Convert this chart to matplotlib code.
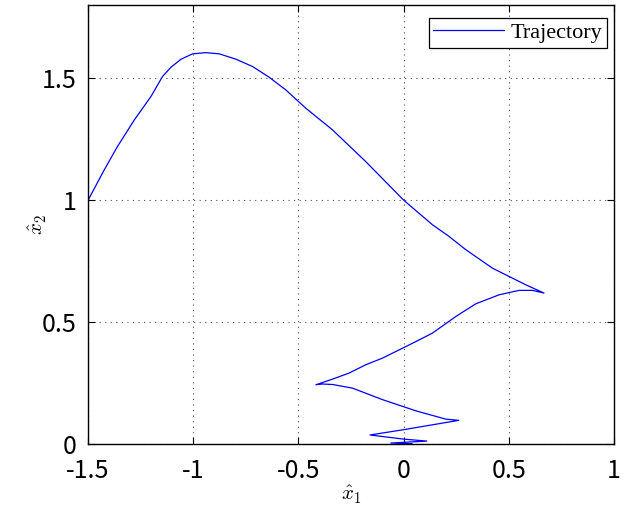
import numpy as np
import matplotlib
matplotlib.use('Agg')
import matplotlib.pyplot as plt

plt.rcParams['mathtext.fontset'] = 'cm'

# trajectory (x1_hat, x2_hat)
x1 = [-1.499, -1.423, -1.360, -1.280, -1.201, -1.146, -1.106, -1.058, -1.003,
      -0.940, -0.876, -0.797, -0.718, -0.639, -0.560, -0.465, -0.338, -0.180,
      0.0, 0.137, 0.216, 0.295, 0.422, 0.501, 0.580, 0.667,
      0.612, 0.549, 0.454, 0.343, 0.248, 0.137, 0.058, -0.101, -0.180, -0.259,
      -0.338, -0.417,
      -0.386, -0.338, -0.243, -0.101, 0.058, 0.200, 0.262,
      0.002, -0.160,
      0.0, 0.110,
      -0.061, 0.040, 0.0]
x2 = [1.001, 1.124, 1.220, 1.329, 1.425, 1.507, 1.545, 1.578, 1.600,
      1.605, 1.600, 1.578, 1.548, 1.504, 1.452, 1.377, 1.288, 1.158,
      1.0, 0.899, 0.851, 0.797, 0.721, 0.687, 0.653, 0.619,
      0.630, 0.630, 0.612, 0.575, 0.523, 0.455, 0.420, 0.352, 0.325, 0.291,
      0.266, 0.243,
      0.246, 0.244, 0.229, 0.182, 0.136, 0.102, 0.097,
      0.059, 0.037,
      0.020, 0.012,
      0.004, 0.001, 0.0]

xticks = [-1.5, -1, -0.5, 0, 0.5, 1]
yticks = [0, 0.5, 1, 1.5]

fig = plt.figure(figsize=(6.26, 5.08), dpi=100)
ax = fig.add_axes([0.1406, 0.126, 0.8404, 0.864])

ax.plot(x1, x2, color='#0000ff', lw=0.9, label='Trajectory')

ax.set_xlim(-1.5, 1)
ax.set_ylim(0, 1.8)
ax.set_xticks(xticks)
ax.set_yticks(yticks)
tickfont = dict(family=['Noto Sans CJK JP', 'DejaVu Sans'], size=18)
ax.set_xticklabels(['%g' % t for t in xticks], **tickfont)
ax.set_yticklabels(['%g' % t for t in yticks], **tickfont)
ax.tick_params(direction='in', top=True, right=True, length=5, width=0.8)
ax.tick_params(axis='x', pad=10)
ax.tick_params(axis='y', pad=8)
for s in ax.spines.values():
    s.set_linewidth(1.0)

ax.grid(True, color='0.3', linestyle=(0, (1, 4)), linewidth=0.8)

ax.set_xlabel(r'$\hat{x}_1$', fontsize=15, labelpad=0)
ax.set_ylabel(r'$\hat{x}_2$', fontsize=15, labelpad=-5)

leg = ax.legend(loc='upper right', bbox_to_anchor=(1 - 7 / 526, 1 - 13 / 439),
                prop=dict(family='Liberation Serif', size=16),
                fancybox=False, framealpha=1, edgecolor='black',
                borderpad=0.2, handlelength=3.2, handletextpad=0.3,
                borderaxespad=0)
leg.get_frame().set_linewidth(0.9)

fig.savefig('out.png', dpi=100)
